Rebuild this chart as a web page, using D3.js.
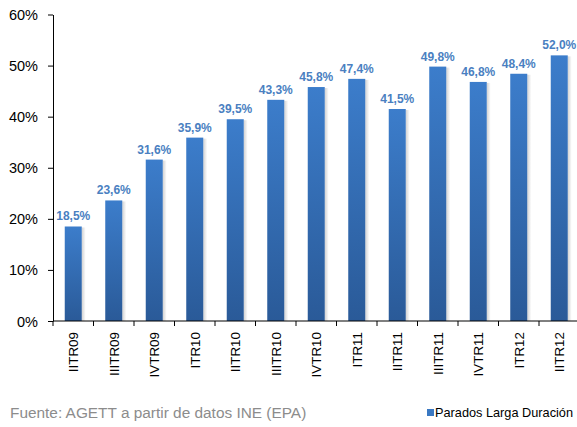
<!DOCTYPE html>
<html><head><meta charset="utf-8">
<script src="https://cdn.jsdelivr.net/npm/d3@7"></script>
<style>body{margin:0;background:#fff}svg{display:block}text{font-family:Arial,"Liberation Sans",sans-serif}</style>
</head><body><svg id="c" width="577" height="427"></svg>
<script>
const categories = ["IITR09","IIITR09","IVTR09","ITR10","IITR10","IIITR10","IVTR10","ITR11","IITR11","IIITR11","IVTR11","ITR12","IITR12"];
const values = [18.5,23.6,31.6,35.9,39.5,43.3,45.8,47.4,41.5,49.8,46.8,48.4,52.0];
const yTicks = [0,10,20,30,40,50,60];
const seriesName = "Parados Larga Duración";
const source = "Fuente: AGETT a partir de datos INE (EPA)";

const svg = d3.select("#c");
const defs = svg.append("defs");
const g1 = defs.append("linearGradient").attr("id","bg").attr("x1",0).attr("x2",0).attr("y1",0).attr("y2",1);
g1.append("stop").attr("offset","0%").attr("stop-color","#3c7dcb");
g1.append("stop").attr("offset","100%").attr("stop-color","#2a5a98");
const g2 = defs.append("linearGradient").attr("id","sh").attr("x1",0).attr("x2",1).attr("y1",0).attr("y2",0);
g2.append("stop").attr("offset","0%").attr("stop-color","#000").attr("stop-opacity",0.18);
g2.append("stop").attr("offset","100%").attr("stop-color","#000").attr("stop-opacity",0);

const x = d3.scaleBand().domain(categories).range([53,579.5]).paddingInner(0.58).paddingOuter(0.29);
const y = d3.scaleLinear().domain([0,60]).range([321,14.5]);

// shadows
svg.append("g").selectAll("rect").data(values).join("rect")
  .attr("x",(d,i)=>x(categories[i])+x.bandwidth())
  .attr("y",d=>y(d)+1).attr("width",4).attr("height",d=>y(0)-y(d)-1)
  .attr("fill","url(#sh)");
svg.append("g").selectAll("rect").data(values).join("rect")
  .attr("x",(d,i)=>x(categories[i])).attr("y",d=>y(d))
  .attr("width",x.bandwidth()).attr("height",d=>y(0)-y(d))
  .attr("fill","url(#bg)");

// value labels
svg.append("g").selectAll("text").data(values).join("text")
  .attr("x",(d,i)=>x(categories[i])+x.bandwidth()/2).attr("y",d=>y(d)-6)
  .attr("text-anchor","middle").attr("font-size",12).attr("font-weight","bold").attr("fill","#4a7fc1")
  .text(d=>d.toFixed(1).replace(".",",")+"%");

// y axis
const ya = svg.append("g").attr("transform","translate(53,0)")
  .call(d3.axisLeft(y).tickValues(yTicks).tickFormat(d=>d+"%").tickSize(5).tickSizeOuter(0));
ya.select(".domain").attr("stroke","#000");
ya.selectAll(".tick line").attr("stroke","#000");
ya.selectAll(".tick text").attr("font-size",14.5).attr("fill","#000").attr("font-family","Arial").attr("x",-15).attr("dy","0.35em");

// x axis
const xa = svg.append("g").attr("transform","translate(0,321)");
xa.append("line").attr("x1",53).attr("x2",579.5).attr("stroke","#000");
xa.selectAll("line.t").data(categories).join("line").attr("class","t")
  .attr("x1",c=>x(c)+x.bandwidth()/2-x.step()/2).attr("x2",c=>x(c)+x.bandwidth()/2-x.step()/2)
  .attr("y1",0).attr("y2",5).attr("stroke","#000");
xa.selectAll("text").data(categories).join("text")
  .attr("transform",c=>`translate(${x(c)+x.bandwidth()/2+5},11) rotate(-90)`)
  .attr("text-anchor","end").attr("font-size",13.4).attr("fill","#000").text(c=>c);

// footer
svg.append("text").attr("x",10).attr("y",418).attr("font-size",15.4).attr("fill","#8c8c8c").text(source);
svg.append("rect").attr("x",427).attr("y",409).attr("width",7).attr("height",7).attr("fill","#3a78c2");
svg.append("text").attr("x",435).attr("y",417).attr("font-size",13).attr("fill","#000")
  .attr("textLength",138).attr("lengthAdjust","spacingAndGlyphs").text(seriesName);
</script></body></html>
